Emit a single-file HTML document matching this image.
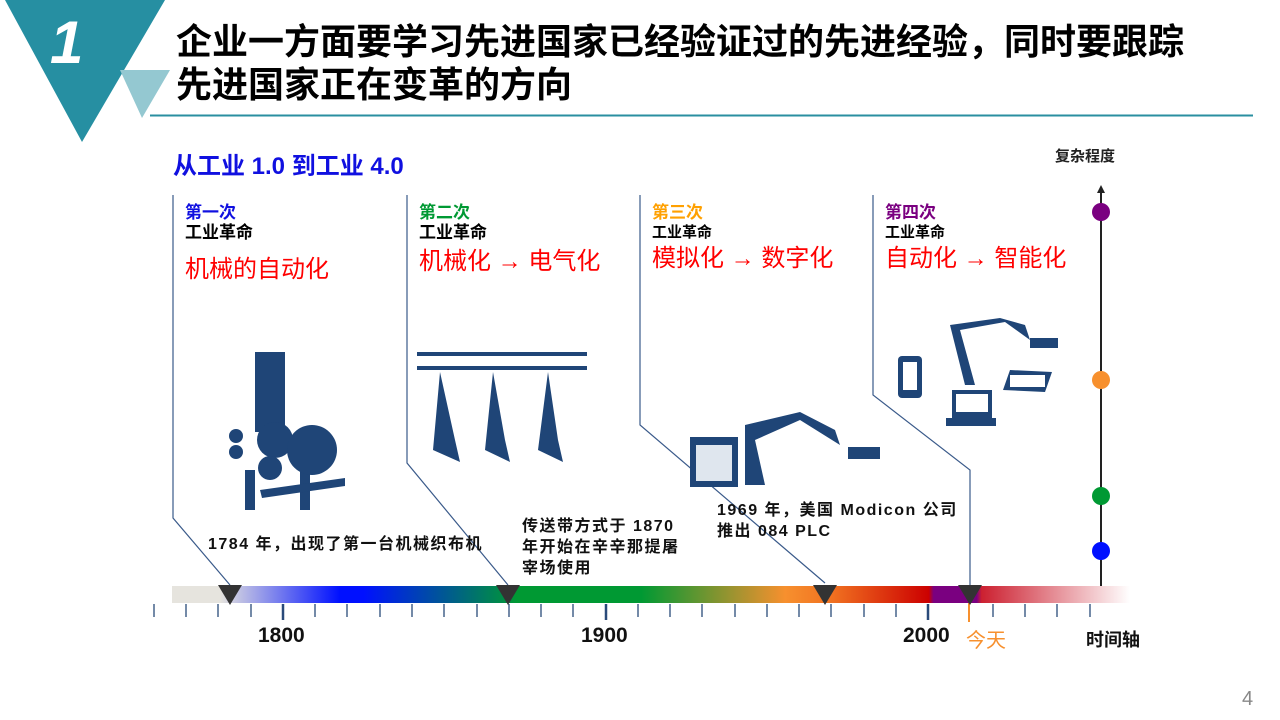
<!DOCTYPE html><html><head><meta charset="utf-8"><style>
body{margin:0;width:1280px;height:720px;background:#fff;position:relative;overflow:hidden;font-family:"Liberation Sans","Noto Sans CJK SC",sans-serif}
.t{position:absolute;white-space:nowrap}
.title{left:176px;font-size:36px;font-weight:bold;color:#000}
.hd{font-size:17px;font-weight:bold;line-height:20px}
.red{color:#ff0000;font-size:24px}
.red b{font-weight:bold}
.note{font-size:16px;font-weight:bold;color:#111;line-height:21px;letter-spacing:1.5px}
.yr{font-size:21px;font-weight:bold;color:#111}
</style></head><body>
<svg width="1280" height="720" style="position:absolute;left:0;top:0">
<defs><linearGradient id="g" x1="172" x2="1130" gradientUnits="userSpaceOnUse">
<stop offset="0" stop-color="#e6e4de"/><stop offset="0.05" stop-color="#e6e4de"/><stop offset="0.175" stop-color="#0010ff"/><stop offset="0.2" stop-color="#0010ff"/><stop offset="0.36" stop-color="#009933"/><stop offset="0.49" stop-color="#009933"/><stop offset="0.64" stop-color="#f7902e"/><stop offset="0.69" stop-color="#f07020"/><stop offset="0.79" stop-color="#cc0000"/><stop offset="0.795" stop-color="#7a0080"/><stop offset="0.84" stop-color="#7a0080"/><stop offset="0.845" stop-color="#cc2030"/><stop offset="1" stop-color="#fff"/></linearGradient></defs>
<polygon points="5,0 165,0 82,142" fill="#268fa2"/>
<polygon points="120,70 170,70 142,118" fill="#94c8d1"/>
<line x1="150" y1="115.5" x2="1253" y2="115.5" stroke="#2a8fa0" stroke-width="2"/>
<g stroke="#3a5a8a" stroke-width="1.2" fill="none">
<polyline points="173,195 173,518 230,585"/>
<polyline points="407,195 407,463 508,585"/>
<polyline points="640,195 640,425 825,583"/>
<polyline points="873,195 873,395 970,470 970,585"/>
</g>
<rect x="172" y="586" width="958" height="17" fill="url(#g)"/>
<g stroke="#2a4a7a" stroke-width="1.3">
<line x1="154" y1="604" x2="154" y2="617"/><line x1="186" y1="604" x2="186" y2="617"/><line x1="218" y1="604" x2="218" y2="617"/><line x1="251" y1="604" x2="251" y2="617"/><line x1="283" y1="604" x2="283" y2="620" stroke-width="2.5"/><line x1="315" y1="604" x2="315" y2="617"/><line x1="347" y1="604" x2="347" y2="617"/><line x1="380" y1="604" x2="380" y2="617"/><line x1="412" y1="604" x2="412" y2="617"/><line x1="444" y1="604" x2="444" y2="617"/><line x1="477" y1="604" x2="477" y2="617"/><line x1="509" y1="604" x2="509" y2="617"/><line x1="541" y1="604" x2="541" y2="617"/><line x1="573" y1="604" x2="573" y2="617"/><line x1="606" y1="604" x2="606" y2="620" stroke-width="2.5"/><line x1="638" y1="604" x2="638" y2="617"/><line x1="670" y1="604" x2="670" y2="617"/><line x1="702" y1="604" x2="702" y2="617"/><line x1="735" y1="604" x2="735" y2="617"/><line x1="767" y1="604" x2="767" y2="617"/><line x1="799" y1="604" x2="799" y2="617"/><line x1="831" y1="604" x2="831" y2="617"/><line x1="864" y1="604" x2="864" y2="617"/><line x1="896" y1="604" x2="896" y2="617"/><line x1="928" y1="604" x2="928" y2="620" stroke-width="2.5"/><line x1="993" y1="604" x2="993" y2="617"/><line x1="1025" y1="604" x2="1025" y2="617"/><line x1="1057" y1="604" x2="1057" y2="617"/><line x1="1090" y1="604" x2="1090" y2="617"/>
</g>
<line x1="969" y1="603" x2="969" y2="622" stroke="#f7902e" stroke-width="2"/>
<g fill="#333"><polygon points="218,585 242,585 230,605"/><polygon points="496,585 520,585 508,605"/><polygon points="813,585 837,585 825,605"/><polygon points="958,585 982,585 970,605"/></g>
<line x1="1101" y1="192" x2="1101" y2="586" stroke="#222" stroke-width="2"/>
<polygon points="1097,193 1105,193 1101,185" fill="#222"/>
<circle cx="1101" cy="212" r="9" fill="#7a0080"/><circle cx="1101" cy="380" r="9" fill="#f7902e"/><circle cx="1101" cy="496" r="9" fill="#009933"/><circle cx="1101" cy="551" r="9" fill="#0010ff"/>
<g fill="#1f4577">
<rect x="255" y="352" width="30" height="80"/><rect x="245" y="470" width="10" height="40"/><rect x="300" y="465" width="10" height="45"/>
<circle cx="275" cy="440" r="18"/><circle cx="312" cy="450" r="25"/><circle cx="270" cy="468" r="12"/><circle cx="236" cy="436" r="7"/><circle cx="236" cy="452" r="7"/>
<polygon points="260,490 345,478 345,486 262,498"/>
<rect x="417" y="352" width="170" height="4"/><rect x="417" y="366" width="170" height="4"/>
<polygon points="440,372 455,440 460,462 433,450"/><polygon points="493,372 505,440 510,462 485,450"/><polygon points="548,372 558,440 563,462 538,450"/>
<rect x="690" y="437" width="48" height="50"/><polygon points="745,485 765,485 755,440 800,420 840,445 835,430 800,412 745,425"/><rect x="848" y="447" width="32" height="12"/>
<rect x="898" y="356" width="24" height="42" rx="4"/><rect x="952" y="390" width="40" height="28"/><rect x="946" y="418" width="50" height="8"/><polygon points="965,385 975,385 960,330 1005,322 1030,340 1025,325 1000,318 950,325"/><rect x="1030" y="338" width="28" height="10"/><polygon points="1010,370 1052,372 1045,392 1003,390"/>
</g>
<g fill="#fff"><rect x="903" y="362" width="14" height="28"/><rect x="956" y="394" width="32" height="18"/><rect x="1010" y="375" width="35" height="12"/><rect x="696" y="445" width="36" height="36" fill="#dfe6ee"/></g>
</svg>
<div class="t" style="left:50px;top:8px;font-size:60px;font-style:italic;font-weight:bold;color:#fff">1</div>
<div class="t title" style="top:13px">企业一方面要学习先进国家已经验证过的先进经验，同时要跟踪</div>
<div class="t title" style="top:56px">先进国家正在变革的方向</div>
<div class="t" style="left:173px;top:146px;font-size:24px;font-weight:bold;color:#1010e0">从工业 1.0 到工业 4.0</div>
<div class="t" style="left:1055px;top:145px;font-size:15px;font-weight:bold;color:#222">复杂程度</div>
<div class="t hd" style="left:185px;top:203px"><span style="color:#1010e0">第一次</span><br>工业革命</div>
<div class="t red" style="left:185px;top:249px">机械的自动化</div>
<div class="t hd" style="left:419px;top:203px"><span style="color:#009933">第二次</span><br>工业革命</div>
<div class="t red" style="left:419px;top:241px">机械化 <b>→</b> 电气化</div>
<div class="t" style="left:652px;top:203px;font-size:17px;font-weight:bold;line-height:19px"><span style="color:#ffa000">第三次</span><br><span style="font-size:15px">工业革命</span></div>
<div class="t red" style="left:652px;top:238px">模拟化 <b>→</b> 数字化</div>
<div class="t" style="left:885px;top:203px;font-size:17px;font-weight:bold;line-height:19px"><span style="color:#7a0080">第四次</span><br><span style="font-size:15px">工业革命</span></div>
<div class="t red" style="left:885px;top:238px">自动化 <b>→</b> 智能化</div>
<div class="t note" style="left:208px;top:534px">1784 年，出现了第一台机械织布机</div>
<div class="t note" style="left:522px;top:516px">传送带方式于 1870<br>年开始在辛辛那提屠<br>宰场使用</div>
<div class="t note" style="left:717px;top:500px">1969 年，美国 Modicon 公司<br>推出 084 PLC</div>
<div class="t yr" style="left:258px;top:624px">1800</div>
<div class="t yr" style="left:581px;top:624px">1900</div>
<div class="t yr" style="left:903px;top:624px">2000</div>
<div class="t" style="left:966px;top:624px;font-size:20px;color:#f7902e">今天</div>
<div class="t" style="left:1086px;top:626px;font-size:18px;font-weight:bold;color:#111">时间轴</div>
<div class="t" style="left:1242px;top:688px;font-size:20px;color:#888">4</div>
</body></html>
